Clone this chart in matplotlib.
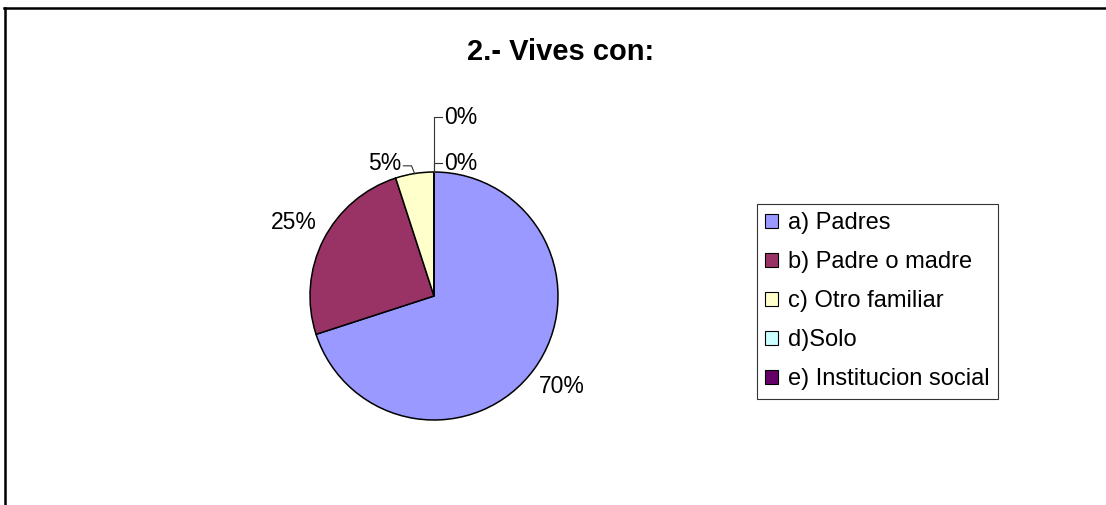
#! /bin/env python3
# plot.py
# pie chart of who the students live with, saved to out.png

import numpy as np
import matplotlib
matplotlib.use("Agg")
import matplotlib.pyplot as plt
from matplotlib.lines import Line2D
import matplotlib.patches as mpatches

plt.rcParams['font.family'] = ['Liberation Sans', 'DejaVu Sans']

title = "2.- Vives con:"
categories = ["a) Padres", "b) Padre o madre", "c) Otro familiar",
              "d)Solo", "e) Institucion social"]
# percentages
values = [70, 25, 5, 0, 0]
colors = ["#9999FF", "#993366", "#FFFFCC", "#CCFFFF", "#660066"]

W, H = 1106, 505
fig = plt.figure(figsize=(W / 100, H / 100), dpi=100)

# outer frame (only top and left edges are visible in the picture)
fig.add_artist(Line2D([4 / W, 1], [1 - 8 / H, 1 - 8 / H], color="black", lw=1.8))
fig.add_artist(Line2D([5 / W, 5 / W], [0, 1 - 8 / H], color="black", lw=1.8))

fig.text(561 / W, 1 - 52 / H, title, ha="center", va="center",
         fontsize=21, fontweight="bold")

# pie axes: center (434, 296) px, radius 124 px
cx, cy, r = 434, 296, 124
ax = fig.add_axes([(cx - r) / W, (H - cy - r) / H, 2 * r / W, 2 * r / H])
wedges, _ = ax.pie(values, colors=colors, startangle=90, counterclock=False,
                   wedgeprops=dict(edgecolor="black", linewidth=1.1))
ax.set_xlim(-1, 1)
ax.set_ylim(-1, 1)
ax.set_aspect("auto")

label_size = 16.5
# heights of the leader lines for the tiny slices (in radius units)
small_heights = [1.05, 1.07, 1.44]
k = 0
for w, v in zip(wedges, values):
    mid = np.deg2rad((w.theta1 + w.theta2) / 2)
    txt = "%d%%" % v
    if v >= 10:
        ax.text(1.27 * np.cos(mid), 1.27 * np.sin(mid) + 0.02, txt,
                ha="center", va="center", fontsize=label_size, clip_on=False)
        continue
    ex, ey = np.cos(mid), np.sin(mid)
    hy = small_heights[k]
    k += 1
    if ex < -0.01:
        # leader bends to the left
        bx = ex - 0.025
        xs, ys = [ex, bx, bx - 0.065], [ey, hy, hy]
        ax.plot(xs, ys, color="#333333", lw=0.8, clip_on=False)
        ax.text(xs[-1] - 0.02, hy + 0.02, txt, ha="right", va="center",
                fontsize=label_size, clip_on=False)
    else:
        xs, ys = [ex, ex, ex + 0.065], [ey, hy, hy]
        ax.plot(xs, ys, color="#333333", lw=0.8, clip_on=False)
        ax.text(xs[-1] + 0.02, hy, txt, ha="left", va="center",
                fontsize=label_size, clip_on=False)

handles = [mpatches.Patch(facecolor=c, edgecolor="black", linewidth=0.8, label=l)
           for c, l in zip(colors, categories)]
leg = fig.legend(handles=handles, loc="upper left",
                 bbox_to_anchor=(757 / W, 1 - 204 / H), borderaxespad=0,
                 fontsize=17, frameon=True, fancybox=False, shadow=False,
                 handlelength=0.55, handleheight=0.55, handletextpad=0.4,
                 labelspacing=0.72, borderpad=0.35)
leg.get_frame().set_edgecolor("black")
leg.get_frame().set_linewidth(0.8)

fig.savefig("out.png", dpi=100)
